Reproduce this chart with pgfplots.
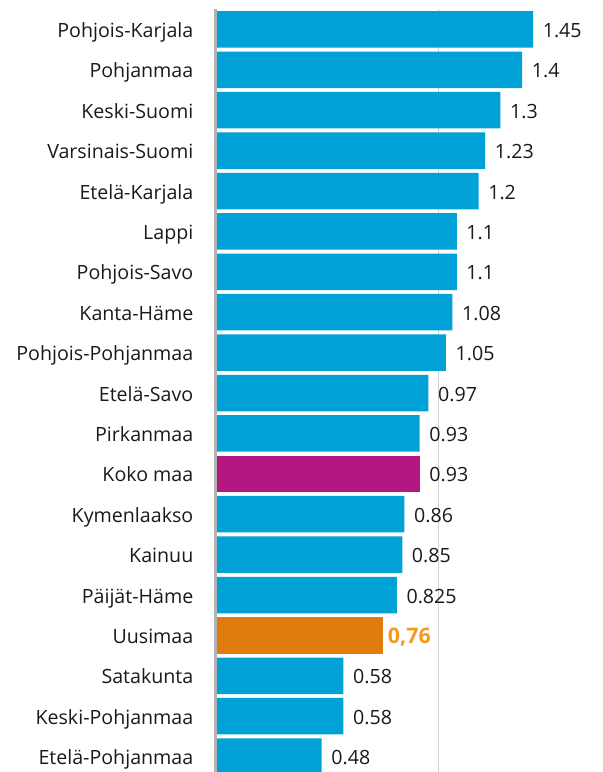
\documentclass[border=0pt]{standalone}
\usepackage{fontspec}
\setmainfont{Open Sans}
\usepackage{pgfplots}
\usepackage{pgfplotstable}
\pgfplotsset{compat=1.18}
\definecolor{barblue}{HTML}{00A1D6}
\definecolor{barmag}{HTML}{B4177F}
\definecolor{barorange}{HTML}{E07B10}
\definecolor{lblorange}{HTML}{F39A1F}
\definecolor{txt}{HTML}{1A1A1A}

\pgfplotstableread{
y x lab
0 1.45 1.45
1 1.4 1.4
2 1.3 1.3
3 1.23 1.23
4 1.2 1.2
5 1.1 1.1
6 1.1 1.1
7 1.08 1.08
8 1.05 1.05
9 0.97 0.97
10 0.93 0.93
12 0.86 0.86
13 0.85 0.85
14 0.825 0.825
16 0.58 0.58
17 0.58 0.58
18 0.48 0.48
}\blueT
\pgfplotstableread{
y x lab
11 0.93 0.93
}\magT
\pgfplotstableread{
y x lab
15 0.76 0,76
}\orangeT

\begin{document}
\begin{tikzpicture}
\useasboundingbox (0,0) rectangle (603bp,-772bp);
\begin{axis}[
  at={(215.5bp,-9.2bp)}, anchor=north west,
  scale only axis,
  width=387.5bp, height=767.6bp,
  xmin=-0.0069, xmax=1.7707,
  ymin=-0.5, ymax=18.5, y dir=reverse,
  xbar, bar width=36.5bp, bar shift=0pt,
  axis x line=bottom, axis y line=left,
  x axis line style={draw=none},
  y axis line style={draw=gray!60, line width=3bp, -},
  xtick=\empty,
  extra x ticks={1.015}, extra x tick labels={},
  extra x tick style={grid=major, major grid style={draw=gray!35, line width=1bp}, major tick length=0pt},
  ytick={0,...,18},
  yticklabels={Pohjois-Karjala,Pohjanmaa,Keski-Suomi,Varsinais-Suomi,Etelä-Karjala,Lappi,Pohjois-Savo,Kanta-Häme,Pohjois-Pohjanmaa,Etelä-Savo,Pirkanmaa,Koko maa,Kymenlaakso,Kainuu,Päijät-Häme,Uusimaa,Satakunta,Keski-Pohjanmaa,Etelä-Pohjanmaa},
  major tick length=0pt,
  ytick style={draw=none},
  yticklabel style={anchor=base east, inner sep=0pt, xshift=-22bp, yshift=-8bp, font=\fontsize{19.7}{22}\selectfont, text=txt},
  nodes near coords,
  point meta=explicit symbolic,
  every node near coord/.append style={anchor=base west, inner sep=0pt, xshift=9.5bp, yshift=-8bp, font=\fontsize{19.7}{22}\selectfont, text=txt},
]
\addplot[fill=barblue, draw=none] table[x=x, y=y, meta=lab]{\blueT};
\addplot[fill=barmag, draw=none] table[x=x, y=y, meta=lab]{\magT};
\addplot[fill=barorange, draw=none, every node near coord/.append style={text=lblorange, xshift=-4.5bp, font=\fontsize{21.5}{24}\selectfont\bfseries}] table[x=x, y=y, meta=lab]{\orangeT};
\end{axis}
\end{tikzpicture}
\end{document}
